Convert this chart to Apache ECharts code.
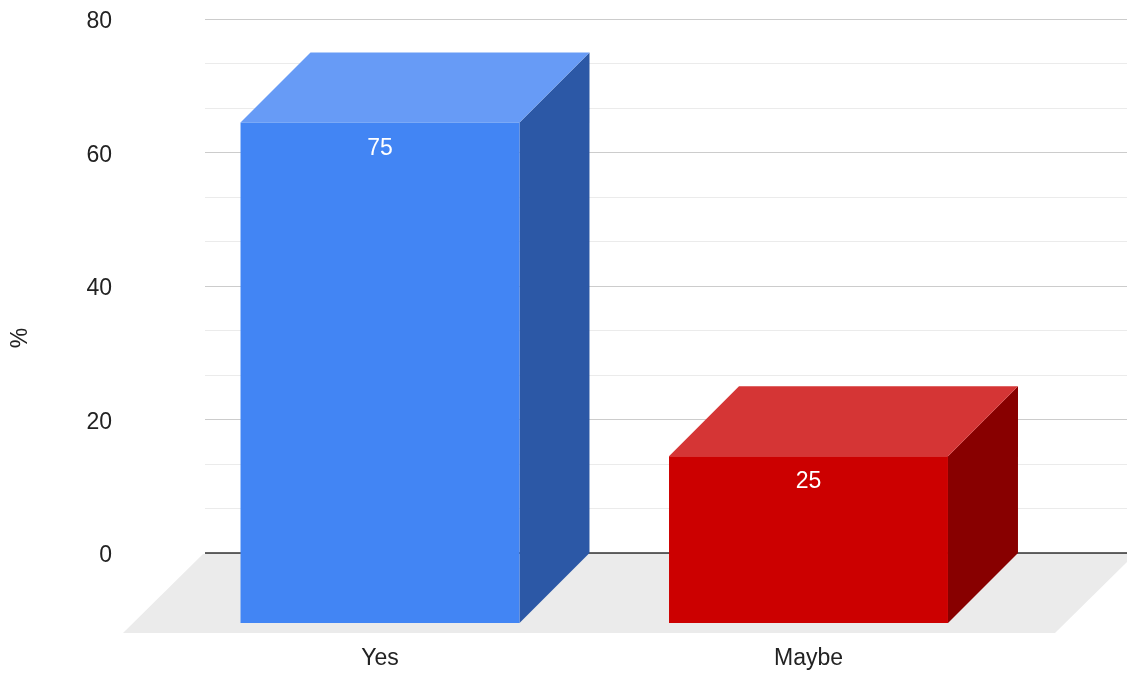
<!DOCTYPE html>
<html>
<head>
<meta charset="utf-8">
<script src="https://cdn.jsdelivr.net/npm/echarts@6/dist/echarts.min.js"></script>
<style>
html,body{margin:0;padding:0;background:#fff;}
#chart{width:1127px;height:673px;}
</style>
</head>
<body>
<div id="chart"></div>
<script>
// ---- data ----
var categories = ['Yes', 'Maybe'];
var values = [75, 25];
var yTicks = [0, 20, 40, 60, 80];
var axisTitle = '%';

// ---- styles ----
var palette = [
  { front: '#4285f4', top: '#679bf6', side: '#2c58a6' },
  { front: '#cc0000', top: '#d53535', side: '#880000' }
];
var DEPTH = 70;       // bar depth in px (3D offset)
var FLOOR = 80;       // floor depth in px
var FONT = '"Liberation Sans", Arial, sans-serif';

var chart = echarts.init(document.getElementById('chart'), null, { renderer: 'canvas' });

function renderFloor(params, api) {
  var cs = params.coordSys;
  var bx0 = cs.x - 2, bx1 = cs.x + cs.width + 8, by = cs.y + cs.height + 1;
  return {
    type: 'group',
    children: [
      {
        type: 'polygon',
        shape: { points: [[bx0, by], [bx1, by], [bx1 - FLOOR, by + FLOOR - 1], [bx0 - FLOOR, by + FLOOR - 1]] },
        style: { fill: '#ebebeb' }
      },
      {
        type: 'line',
        shape: { x1: cs.x, y1: cs.y + cs.height, x2: cs.x + cs.width, y2: cs.y + cs.height },
        style: { stroke: '#333333', lineWidth: 1.5 }
      }
    ],
    silent: true
  };
}

function renderBar(params, api) {
  var idx = api.value(0);
  var val = api.value(1);
  var pTop = api.coord([idx, val]);
  var pBot = api.coord([idx, 0]);
  var w = api.size([1, 0])[0] * 0.651;
  var x0 = pTop[0] - w / 2, x1 = pTop[0] + w / 2;
  var yt = pTop[1], yb = pBot[1];
  var c = palette[idx % palette.length];
  return {
    type: 'group',
    children: [
      { type: 'polygon', shape: { points: [[x1, yt], [x1 + DEPTH, yt - DEPTH], [x1 + DEPTH, yb - DEPTH], [x1, yb]] }, style: { fill: c.side } },
      { type: 'polygon', shape: { points: [[x0, yt], [x0 + DEPTH, yt - DEPTH], [x1 + DEPTH, yt - DEPTH], [x1, yt]] }, style: { fill: c.top } },
      { type: 'rect', shape: { x: x0, y: yt, width: w, height: yb - yt }, style: { fill: c.front } },
      { type: 'text', x: pTop[0], y: yt + 26, style: { text: String(val), fill: '#ffffff', font: '23px ' + FONT, align: 'center', verticalAlign: 'middle' } }
    ]
  };
}

var option = {
  animation: false,
  backgroundColor: '#ffffff',
  grid: [
    { left: 205, right: 0, top: 19, bottom: 120 },          // back plane
    { left: 165.75, right: 104.25, top: 89, bottom: 50 }     // front plane
  ],
  xAxis: [
    {
      gridIndex: 0, type: 'category', data: categories,
      axisLine: { show: false },
      axisTick: { show: false }, axisLabel: { show: false }, splitLine: { show: false }
    },
    {
      gridIndex: 1, type: 'category', data: categories,
      axisLine: { show: false }, axisTick: { show: false },
      axisLabel: { show: true, margin: 24, color: '#222222', fontSize: 23, fontFamily: FONT },
      splitLine: { show: false }
    }
  ],
  yAxis: [
    {
      gridIndex: 0, type: 'value', min: yTicks[0], max: yTicks[yTicks.length - 1], interval: 20,
      axisLine: { show: false }, axisTick: { show: false },
      axisLabel: {
        margin: 93, color: '#222222', fontSize: 23, fontFamily: FONT,
        formatter: '{a|{value}}',
        rich: { a: { color: '#222222', fontSize: 23, fontFamily: FONT, padding: [6, 0, 0, 0] } }
      },
      splitLine: { show: true, lineStyle: { color: '#cccccc', width: 1 } },
      minorTick: { show: false, splitNumber: 3 },
      minorSplitLine: { show: true, lineStyle: { color: '#ebebeb', width: 1 } }
    },
    {
      gridIndex: 1, type: 'value', min: yTicks[0], max: yTicks[yTicks.length - 1], interval: 20,
      show: false, splitLine: { show: false }
    }
  ],
  graphic: [
    { type: 'text', x: 21, y: 338, rotation: Math.PI / 2,
      style: { text: axisTitle, fill: '#222222', font: '23px ' + FONT, align: 'center', verticalAlign: 'middle' } }
  ],
  series: [
    { type: 'custom', xAxisIndex: 0, yAxisIndex: 0, renderItem: renderFloor, data: [[0, 0]], z: 1, silent: true },
    { type: 'custom', xAxisIndex: 1, yAxisIndex: 1, renderItem: renderBar, z: 3,
      data: values.map(function (v, i) { return [i, v]; }) }
  ]
};
chart.setOption(option);
</script>
</body>
</html>
